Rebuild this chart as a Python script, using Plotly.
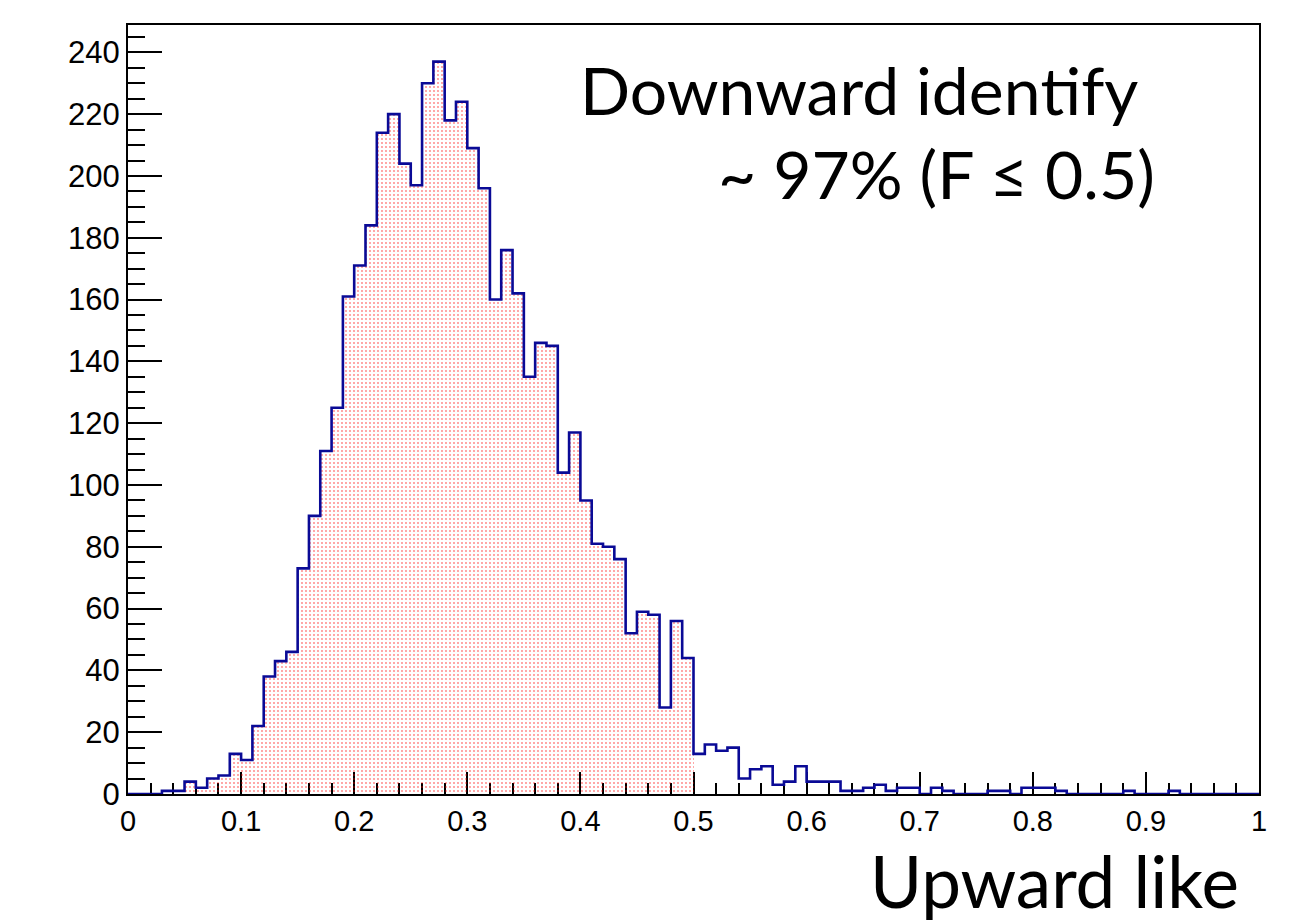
import plotly.graph_objects as go

# histogram: 100 bins on [0, 1]
bin_width = 0.01
counts = [
    0, 0, 0, 1, 1, 4, 2, 5, 6, 13,
    11, 22, 38, 43, 46, 73, 90, 111, 125, 161,
    171, 184, 214, 220, 204, 197, 230, 237, 218, 224,
    209, 196, 160, 176, 162, 135, 146, 145, 104, 117,
    95, 81, 80, 76, 52, 59, 58, 28, 56, 44,
    13, 16, 14, 15, 5, 8, 9, 3, 4, 9,
    4, 4, 4, 1, 1, 2, 3, 1, 2, 2,
    0, 2, 1, 0, 0, 0, 1, 1, 0, 2,
    2, 2, 1, 0, 0, 0, 0, 0, 1, 0,
    0, 0, 1, 0, 0, 0, 0, 0, 0, 0,
]
cut = 0.5
x_tick_vals = [0, 0.1, 0.2, 0.3, 0.4, 0.5, 0.6, 0.7, 0.8, 0.9, 1]
x_tick_text = ["0", "0.1", "0.2", "0.3", "0.4", "0.5", "0.6", "0.7", "0.8", "0.9", "1"]
y_tick_vals = [0, 20, 40, 60, 80, 100, 120, 140, 160, 180, 200, 220, 240]
title_line1 = "Downward iden\u200ctif\u200cy"
title_line2 = "~ 97% (F \u2264 0.5)"
x_title = "Upward like"

n = len(counts)
edges = [i * bin_width for i in range(n + 1)]
centers = [e + bin_width / 2 for e in edges[:-1]]
sel = [i for i in range(n) if edges[i + 1] <= cut + 1e-9]

fig = go.Figure()
fig.add_trace(go.Bar(
    x=[centers[i] for i in sel],
    y=[counts[i] for i in sel],
    width=bin_width,
    marker=dict(
        color="rgba(0,0,0,0)",
        line=dict(width=0),
        pattern=dict(shape=".", fgcolor="#ff0000", bgcolor="rgba(0,0,0,0)",
                     size=4, solidity=0.16, fillmode="overlay"),
    ),
    hoverinfo="skip",
    showlegend=False,
))
fig.add_trace(go.Scatter(
    x=edges,
    y=counts + [counts[-1]],
    mode="lines",
    line=dict(shape="hv", color="#0a0a96", width=2.6),
    hoverinfo="skip",
    showlegend=False,
))

fig.update_layout(
    width=1300, height=924,
    margin=dict(l=128, r=41, t=25, b=130),
    plot_bgcolor="white", paper_bgcolor="white",
    bargap=0,
    font=dict(family="Liberation Sans, Arial, sans-serif", color="black"),
    xaxis=dict(
        range=[0, 1], tickvals=x_tick_vals, ticktext=x_tick_text,
        ticks="inside", ticklen=22, tickwidth=1.8, tickcolor="black",
        minor=dict(dtick=0.02, tick0=0, ticks="inside", ticklen=11, tickwidth=1.8, tickcolor="black"),
        showline=True, linecolor="black", linewidth=2, mirror=True,
        showgrid=False, zeroline=False, layer="below traces",
        tickfont=dict(size=29, family="Liberation Sans, Arial, sans-serif"),
    ),
    yaxis=dict(
        range=[0, 248.85], tickvals=y_tick_vals,
        ticks="inside", ticklen=34, tickwidth=1.8, tickcolor="black",
        minor=dict(dtick=5, tick0=0, ticks="inside", ticklen=17, tickwidth=1.8, tickcolor="black"),
        showline=True, linecolor="black", linewidth=2, mirror=True,
        showgrid=False, zeroline=False, layer="below traces",
        tickfont=dict(size=31, family="Liberation Sans, Arial, sans-serif"),
    ),
    annotations=[
        dict(text=title_line1, xref="paper", yref="paper", x=0.895, y=0.916,
             xanchor="right", yanchor="middle", showarrow=False,
             font=dict(family="Lato, sans-serif", size=66, color="black")),
        dict(text=title_line2, xref="paper", yref="paper", x=0.91, y=0.807,
             xanchor="right", yanchor="middle", showarrow=False,
             font=dict(family="Lato, sans-serif", size=66, color="black")),
        dict(text=x_title, xref="paper", yref="paper", x=0.984, y=-0.1125,
             xanchor="right", yanchor="middle", showarrow=False,
             font=dict(family="Lato, sans-serif", size=71, color="black")),
    ],
)

fig.write_html("out.html")
